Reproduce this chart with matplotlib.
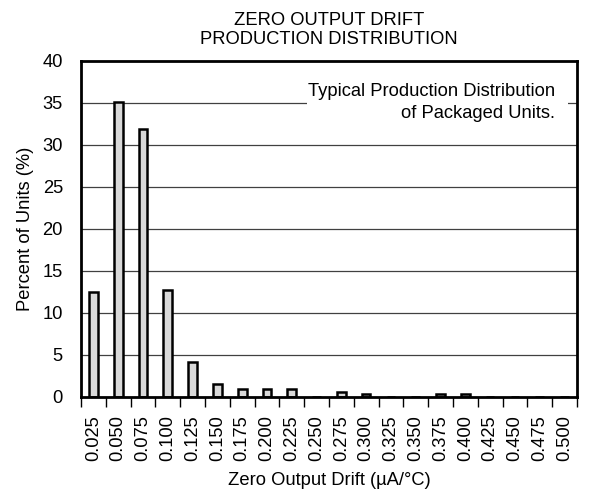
import matplotlib
matplotlib.use("Agg")
import matplotlib.pyplot as plt
import matplotlib.patches as patches
import numpy as np

plt.rcParams['font.family'] = ['Liberation Sans', 'DejaVu Sans']

# drift bins (uA/C) and percent of units in each
drift_labels = ["0.025", "0.050", "0.075", "0.100", "0.125", "0.150", "0.175",
                "0.200", "0.225", "0.250", "0.275", "0.300", "0.325", "0.350",
                "0.375", "0.400", "0.425", "0.450", "0.475", "0.500"]
percent_units = [12.5, 35.1, 31.9, 12.7, 4.2, 1.5, 0.9, 1.0, 0.9, 0.0,
                 0.6, 0.4, 0.0, 0.0, 0.3, 0.3, 0.0, 0.0, 0.0, 0.0]
y_ticks = [0, 5, 10, 15, 20, 25, 30, 35, 40]

fs = 13.2

fig = plt.figure(figsize=(5.89, 4.95), dpi=100)
ax = fig.add_axes([0.1375, 0.198, 0.842, 0.679])

x = np.arange(len(drift_labels))
ax.bar(x, percent_units, width=0.35, color='#d9d9d9', edgecolor='black',
       linewidth=1.8, zorder=3)

ax.set_xlim(-0.5, len(drift_labels) - 0.5)
ax.set_ylim(0, 40)

# gridlines
for yv in y_ticks[1:-1]:
    ax.axhline(yv, color='#404040', linewidth=0.9, zorder=1)

# white box behind the note
rect = patches.Rectangle((0.456, 0.81), 0.526, 0.13, transform=ax.transAxes,
                         facecolor='white', edgecolor='none', zorder=2)
ax.add_patch(rect)
ax.text(0.956, 0.876, "Typical Production Distribution\nof Packaged Units.",
        transform=ax.transAxes, ha='right', va='center', multialignment='right',
        fontsize=fs, linespacing=1.32, zorder=4)

ax.set_xticks(x)
ax.set_xticklabels(drift_labels, rotation=90, fontsize=fs)
ax.set_xticks(np.arange(len(drift_labels) + 1) - 0.5, minor=True)
ax.tick_params(axis='x', which='major', length=0, pad=13)
ax.tick_params(axis='x', which='minor', length=7, width=1, direction='out')
ax.set_yticks(y_ticks)
ax.set_yticklabels([str(v) for v in y_ticks], fontsize=fs)
ax.tick_params(axis='y', length=0, pad=13)

for sp in ax.spines.values():
    sp.set_linewidth(2)
    sp.set_zorder(5)

ax.set_xlabel("Zero Output Drift (\u00b5A/\u00b0C)", fontsize=fs, labelpad=8)
ax.set_ylabel("Percent of Units (%)", fontsize=fs, labelpad=6)
ax.set_title("ZERO OUTPUT DRIFT\nPRODUCTION DISTRIBUTION", fontsize=fs,
             linespacing=1.15, pad=12)

plt.savefig("out.png", dpi=100)
